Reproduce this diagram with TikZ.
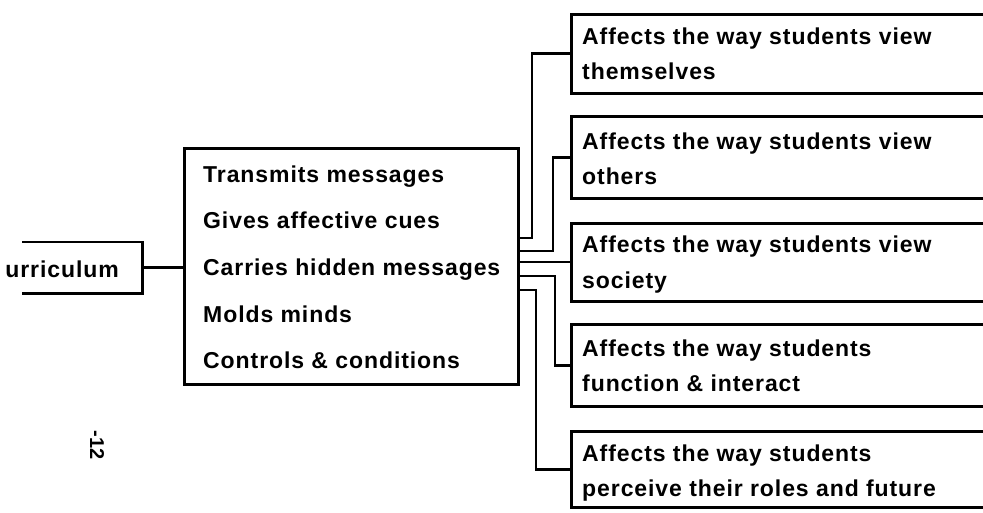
\documentclass[tikz,border=0pt]{standalone}
\usepackage{fontspec}
\setmainfont{Liberation Sans}
\newfontfamily\boxfont[LetterSpace=4]{Liberation Sans}
\begin{document}
\tikzset{
  box/.style={draw, line width=2.8pt, inner sep=0pt, anchor=north west},
  txt/.style={font=\boxfont\bfseries\fontsize{23}{27}\selectfont, anchor=base west, inner sep=0pt},
  conn/.style={line width=2.8pt},
}
\begin{tikzpicture}[x=1pt,y=-1pt]
\useasboundingbox (0,0) rectangle (983,513);
\clip (0,0) rectangle (983,513);
% left box (cut at page edge)
\node[inner sep=0pt, minimum width=120pt, minimum height=51pt, anchor=north west] (l) at (22,242) {};
\draw[conn] (l.north west) -- (l.north east) -- (l.south east) -- (l.south west);
\node[txt, anchor=base east] (lt) at (119,277) {urriculum};
% main box
\node[box, minimum width=334pt, minimum height=236pt] (m) at (183,147) {};
\node[txt] (m1) at (203,183) {Transmits messages};
\node[txt] (m2) at (203,229) {Gives affective cues};
\node[txt] (m3) at (203,276) {Carries hidden messages};
\node[txt] (m4) at (203,322) {Molds minds};
\node[txt] (m5) at (203,368) {Controls \& conditions};
% right boxes
\node[box, minimum width=440pt, minimum height=79pt] (b1) at (570,13) {};
\node[box, minimum width=440pt, minimum height=82pt] (b2) at (570,115) {};
\node[box, minimum width=440pt, minimum height=78pt] (b3) at (570,222) {};
\node[box, minimum width=440pt, minimum height=82pt] (b4) at (570,323) {};
\node[box, minimum width=440pt, minimum height=76pt] (b5) at (570,430) {};
\node[txt] (r11) at (582,45) {Affects the way students view};
\node[txt] (r12) at (582,80) {themselves};
\node[txt] (r21) at (582,150) {Affects the way students view};
\node[txt] (r22) at (582,185) {others};
\node[txt] (r31) at (582,253) {Affects the way students view};
\node[txt] (r32) at (582,288) {society};
\node[txt] (r41) at (582,356) {Affects the way students};
\node[txt] (r42) at (582,391) {function \& interact};
\node[txt] (r51) at (582,461) {Affects the way students};
\node[txt] (r52) at (582,496) {perceive their roles and future};
% connectors
\draw[conn] (l.east) -- (m.west |- l.east);
\coordinate (k1) at (532,238);
\coordinate (k2) at (553,251);
\coordinate (k3) at (553,262);
\coordinate (k4) at (555,276);
\coordinate (k5) at (536,290);
\draw[conn] (m.east |- k1) -| (k1 |- b1.west) -- (b1.west);
\draw[conn] (m.east |- k2) -| (k2 |- b2.west) -- (b2.west);
\draw[conn] (m.east |- k3) -- (b3.west |- k3);
\draw[conn] (m.east |- k4) -| (k4 |- b4.west) -- (b4.west);
\draw[conn] (m.east |- k5) -| (k5 |- b5.west) -- (b5.west);
% page number
\node[font=\bfseries\fontsize{20}{22}\selectfont, rotate=-90, inner sep=0pt] (pg) at (97,445) {-12};
\end{tikzpicture}
\end{document}
